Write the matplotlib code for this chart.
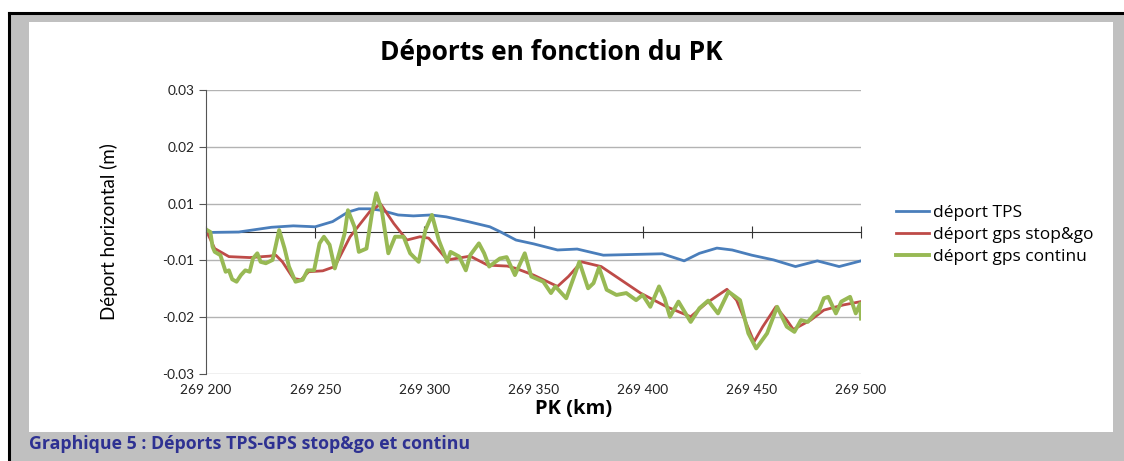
import numpy as np
import matplotlib
matplotlib.use("Agg")
import matplotlib.pyplot as plt
from matplotlib.patches import Rectangle
from matplotlib.lines import Line2D
from matplotlib.ticker import FuncFormatter, FormatStrFormatter

# deport TPS
pk_tps = [269200, 269215, 269230, 269240, 269250, 269258, 269265, 269270, 269275,
          269280, 269288, 269295, 269303, 269310, 269320, 269330, 269335, 269342,
          269350, 269361, 269370, 269382, 269400, 269409, 269419, 269426, 269434,
          269441, 269450, 269460, 269470, 269480, 269490, 269500]
dep_tps = [-0.0001, 0.0000, 0.0010, 0.0013, 0.0011, 0.0022, 0.0042, 0.0049, 0.0049,
           0.0046, 0.0036, 0.0034, 0.0036, 0.0032, 0.0022, 0.0011, 0.0000, -0.0017,
           -0.0025, -0.0038, -0.0036, -0.0049, -0.0047, -0.0046, -0.0061, -0.0045, -0.0034,
           -0.0038, -0.0049, -0.0059, -0.0073, -0.0061, -0.0073, -0.0061]

# deport gps stop&go
pk_sg = [269200, 269204, 269210.5, 269220, 269229, 269232, 269235, 269240, 269243.5,
         269247, 269253.5, 269259, 269266, 269275, 269280, 269286, 269292, 269298,
         269302, 269310.5, 269321, 269329, 269338, 269342, 269350, 269361, 269366,
         269372, 269381, 269399, 269411, 269422, 269429, 269438.6, 269443, 269451,
         269455, 269461, 269466, 269469, 269477, 269483, 269492, 269500]
dep_sg = [0.0004, -0.0035, -0.0052, -0.0054, -0.0051, -0.0049, -0.0063, -0.0098, -0.0101,
          -0.0084, -0.0082, -0.0073, -0.0010, 0.0043, 0.0059, 0.0018, -0.0017, -0.0010,
          -0.0013, -0.0059, -0.0051, -0.0070, -0.0072, -0.0077, -0.0091, -0.0115, -0.0094,
          -0.0063, -0.0073, -0.0129, -0.0158, -0.0179, -0.0151, -0.0121, -0.0144, -0.0232,
          -0.0200, -0.0158, -0.0186, -0.0206, -0.0186, -0.0165, -0.0154, -0.0147]

# deport gps continu
pk_gc = [269200.5, 269202, 269203, 269204, 269206.6, 269209, 269210.5, 269212, 269214,
         269216, 269218, 269220, 269221.5, 269223.5, 269225, 269227.4, 269230.5, 269233.5,
         269236, 269238, 269241, 269244.3, 269246.5, 269249.5, 269252, 269254, 269256.6,
         269259, 269261, 269263.5, 269265, 269268, 269270, 269273.5, 269276, 269278,
         269280.5, 269283.5, 269286.6, 269290.5, 269293.5, 269297.4, 269300.5, 269303.5,
         269306.6, 269310.5, 269312, 269316, 269319, 269321, 269325, 269327.4, 269329.7,
         269334.6, 269337.7, 269341.5, 269346, 269349, 269354.5, 269358, 269360, 269365,
         269371, 269375, 269377.5, 269380, 269383.5, 269388, 269392.5, 269397, 269400,
         269403.5, 269407.5, 269410, 269412.5, 269416.4, 269422, 269426, 269430, 269434.5,
         269439.3, 269444.6, 269448.4, 269452, 269457, 269461.6, 269466, 269469.5, 269472.5,
         269475.6, 269479, 269480.6, 269483, 269485, 269488.5, 269491, 269495, 269497.6,
         269499.6, 269500]
dep_gc = [0.0004, 0.0000, -0.0031, -0.0042, -0.0049, -0.0084, -0.0081, -0.0100, -0.0105,
          -0.0091, -0.0081, -0.0084, -0.0056, -0.0045, -0.0063, -0.0066, -0.0059, 0.0004,
          -0.0035, -0.0073, -0.0105, -0.0101, -0.0081, -0.0081, -0.0024, -0.0010, -0.0027,
          -0.0077, -0.0045, -0.0003, 0.0046, 0.0011, -0.0042, -0.0035, 0.0039, 0.0082,
          0.0046, -0.0045, -0.0010, -0.0010, -0.0045, -0.0063, 0.0004, 0.0036,
          -0.0017, -0.0063, -0.0042, -0.0052, -0.0081, -0.0049, -0.0024, -0.0045, -0.0073,
          -0.0056, -0.0053, -0.0091, -0.0045, -0.0094, -0.0105, -0.0129, -0.0115, -0.0140,
          -0.0063, -0.0119, -0.0108, -0.0075, -0.0122, -0.0133, -0.0129, -0.0144, -0.0133,
          -0.0158, -0.0115, -0.0140, -0.0179, -0.0147, -0.0190, -0.0161, -0.0145, -0.0172,
          -0.0126, -0.0144, -0.0214, -0.0246, -0.0214, -0.0158, -0.0200, -0.0211, -0.0186,
          -0.0190, -0.0172, -0.0168, -0.0140, -0.0137, -0.0172, -0.0147, -0.0137, -0.0172,
          -0.0151, -0.0183]

x_ticks = [269200, 269250, 269300, 269350, 269400, 269450, 269500]
y_ticks = np.linspace(-0.03, 0.03, 6)

fig = plt.figure(figsize=(11.24, 4.61), dpi=100)
fig.patch.set_facecolor("white")

# grey frame + black border + white chart area
fig.patches.append(Rectangle((10 / 1124, 0), 1, 1 - 13 / 461, transform=fig.transFigure,
                             facecolor="#c0c0c0", edgecolor="none", zorder=-3))
fig.lines.append(Line2D([9 / 1124, 1], [1 - 13 / 461, 1 - 13 / 461], transform=fig.transFigure,
                        color="black", lw=2.2))
fig.lines.append(Line2D([9 / 1124, 9 / 1124], [0, 1 - 13 / 461], transform=fig.transFigure,
                        color="black", lw=2.2))
fig.patches.append(Rectangle((29 / 1124, 1 - 432 / 461), (1113 - 29) / 1124, (432 - 22) / 461,
                             transform=fig.transFigure, facecolor="white", edgecolor="none",
                             zorder=-2))

ax = fig.add_axes([206 / 1124, 1 - 374 / 461, 655 / 1124, 284 / 461])
ax.set_facecolor("none")

ax.plot(pk_tps, dep_tps, color="#4a7ebb", lw=2, label="déport TPS")
ax.plot(pk_sg, dep_sg, color="#be4b48", lw=2, label="déport gps stop&go")
ax.plot(pk_gc, dep_gc, color="#98b954", lw=2.8, label="déport gps continu")

ax.set_xlim(269200, 269500)
ax.set_ylim(-0.03, 0.03)
ax.set_yticks(y_ticks)
ax.yaxis.set_major_formatter(FormatStrFormatter("%.2f"))
ax.grid(axis="y", color="#b3b3b3", lw=1)
ax.set_axisbelow(True)

for s in ["top", "right", "bottom"]:
    ax.spines[s].set_visible(False)
ax.spines["left"].set_color("#555555")

ax.set_xticks(x_ticks)
ax.xaxis.set_major_formatter(FuncFormatter(lambda v, p: f"{int(v):,}".replace(",", " ")))
ax.tick_params(axis="x", length=0, pad=7, labelsize=9.8, colors="#222222")
ax.tick_params(axis="y", direction="out", length=5, color="#555555", labelsize=9.8,
               labelcolor="#222222")
for lab in ax.get_xticklabels() + ax.get_yticklabels():
    lab.set_family(["Lato", "DejaVu Sans"])

# zero line carrying the x tick marks
zax = ax.secondary_xaxis(0.5)
zax.set_xticks(x_ticks)
zax.tick_params(axis="x", direction="inout", length=8, labelbottom=False, labeltop=False,
                color="#333333")
zax.spines["bottom"].set_color("#333333")
zax.spines["top"].set_color("#333333")

fig.text(574 / 1124, 1 - 409 / 461, "PK (km)", ha="center", va="center", fontsize=14.5,
         fontweight="bold", family=["Open Sans", "DejaVu Sans"])
ax.set_ylabel("Déport horizontal (m)", fontsize=13.5,
              family=["Liberation Sans Narrow", "Lato", "DejaVu Sans"], labelpad=32)
fig.text(551 / 1124, 1 - 52 / 461, "Déports en fonction du PK", ha="center", va="center",
         fontsize=19, fontweight="bold", family=["Open Sans", "DejaVu Sans"])

ax.legend(loc="center left", bbox_to_anchor=(1.040, 0.49), frameon=False,
          borderpad=0, handlelength=1.9, handletextpad=0.25, labelspacing=0.35,
          prop={"family": ["Open Sans", "DejaVu Sans"], "size": 12.5})

fig.text(29 / 1124, 1 - 444 / 461, "Graphique 5 : Déports TPS-GPS stop&go et continu",
         ha="left", va="center", fontsize=12.8, fontweight="bold", color="#2e3192",
         family=["Open Sans", "DejaVu Sans"])

fig.savefig("out.png", dpi=100)
